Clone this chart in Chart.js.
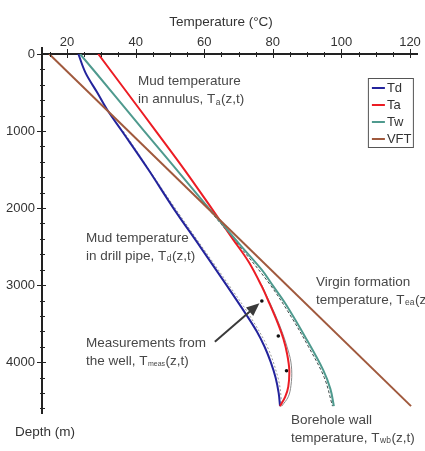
<!DOCTYPE html>
<html>
<head>
<meta charset="utf-8">
<script src="https://cdn.jsdelivr.net/npm/chart.js@4.4.1/dist/chart.umd.min.js"></script>
<style>
  body { margin: 0; background: #fff; }
  canvas { display: block; }
</style>
</head>
<body>
<canvas id="chart" width="425" height="451"></canvas>
<script>
// tick labels
var xTicks = [20, 40, 60, 80, 100, 120];
var yTicks = [0, 1000, 2000, 3000, 4000];

// mud temperature in drill pipe
var tdDepth = [0, 245, 500, 744, 1000, 1500, 2000, 2500, 3000, 3400, 3600, 3800, 4000, 4200, 4400, 4571];
var tdTemp  = [23.3, 25.4, 28.8, 32.0, 36.0, 43.7, 51.0, 58.8, 66.5, 72.5, 75.3, 77.6, 79.4, 80.8, 81.7, 82.1];

// mud temperature in annulus
var taDepth = [0, 500, 1000, 1500, 2000, 2130, 2400, 2694, 3000, 3236, 3500, 3700, 3900, 4103, 4320, 4450, 4571];
var taTemp  = [29.1, 37.5, 45.9, 54.2, 62.1, 64.1, 68.3, 72.9, 76.6, 79.0, 81.5, 83.1, 84.2, 84.8, 84.5, 83.6, 82.1];

// borehole wall temperature
var twDepth = [0, 500, 1000, 1372, 2000, 2130, 2500, 2802, 3000, 3236, 3670, 4103, 4350, 4571];
var twTemp  = [23.8, 33.2, 42.5, 49.5, 61.3, 63.8, 70.9, 76.8, 79.9, 83.6, 89.4, 94.7, 96.8, 97.8];

// virgin formation temperature
var vftDepth = [0, 4571];
var vftTemp  = [14.8, 120.3];

// companion (model comparison) curves
var tdSimDepth = [1000, 2000, 3000, 3400, 3800, 4200, 4450, 4571];
var tdSimTemp  = [36.4, 51.5, 67.2, 73.3, 78.4, 81.5, 82.4, 82.3];
var taSimDepth = [3000, 3500, 3900, 4100, 4300, 4450, 4571];
var taSimTemp  = [76.8, 81.8, 84.8, 85.5, 85.3, 84.5, 82.6];
var twSimDepth = [2000, 2500, 3000, 3400, 3800, 4200, 4571];
var twSimTemp  = [61.0, 70.4, 79.3, 85.2, 90.4, 95.0, 97.4];

// measurements from the well
var measDepth = [3206, 3661, 4111];
var measTemp  = [76.8, 81.6, 84.0];

var FONT = "'Liberation Sans', Arial, Helvetica, sans-serif";

function pts(temps, depths) {
	var out = [];
	for (var i = 0; i < temps.length; i++) {
		out.push({x: temps[i], y: depths[i]});
	}
	return out;
}

function line(label, temps, depths, color, width, dash) {
	return {
		label: label,
		data: pts(temps, depths),
		showLine: true,
		borderColor: color,
		borderWidth: width,
		borderDash: dash || [],
		pointRadius: 0,
		tension: 0.35,
		fill: false
	};
}

var datasets = [
	line('VFT', vftTemp, vftDepth, '#a0593d', 2),
	line('Tw', twTemp, twDepth, '#4f9a8e', 2),
	line('Ta', taTemp, taDepth, '#ec1c24', 2),
	line('Td', tdTemp, tdDepth, '#23239c', 2),
	line('', tdSimTemp, tdSimDepth, '#9a9a9a', 1, [2, 2]),
	line('', taSimTemp, taSimDepth, '#8a8a8a', 1),
	line('', twSimTemp, twSimDepth, '#3c4a48', 1, [3, 2]),
	{
		label: '',
		data: pts(measTemp, measDepth),
		showLine: false,
		pointRadius: 1.8,
		pointBackgroundColor: '#111',
		pointBorderWidth: 0
	}
];

var legendOrder = ['Td', 'Ta', 'Tw', 'VFT'];

// text notes, anchored in data units (temperature, depth of first line)
var notes = [
	{t: 40.7, d: 354, lines: [['Mud temperature'], ['in annulus, T', {sub: 'a'}, '(z,t)']]},
	{t: 25.5, d: 2386, lines: [['Mud temperature'], ['in drill pipe, T', {sub: 'd'}, '(z,t)']]},
	{t: 92.6, d: 2958, lines: [['Virgin formation'], ['temperature, T', {sub: 'ea'}, '(z,t)']]},
	{t: 25.5, d: 3752, lines: [['Measurements from'], ['the well, T', {sub: 'meas'}, '(z,t)']]},
	{t: 85.3, d: 4752, lines: [['Borehole wall'], ['temperature, T', {sub: 'wb'}, '(z,t)']]}
];

function drawRich(ctx, parts, x, y) {
	for (var i = 0; i < parts.length; i++) {
		var p = parts[i];
		if (typeof p === 'string') {
			ctx.font = '13.5px ' + FONT;
			ctx.fillText(p, x, y);
			x += ctx.measureText(p).width;
		} else {
			ctx.font = (p.sub.length > 2 ? '7px ' : '8.5px ') + FONT;
			ctx.fillText(p.sub, x + 0.5, y + 3);
			x += ctx.measureText(p.sub).width + 1;
		}
	}
}

var decor = {
	id: 'decor',
	afterDraw: function(chart) {
		var ctx = chart.ctx;
		var a = chart.chartArea;
		var x = chart.scales.x;
		var y = chart.scales.y;
		ctx.save();

		// axis ticks crossing the axis lines
		ctx.strokeStyle = '#222';
		ctx.lineWidth = 1;
		for (var v = 15; v <= 120; v += 5) {
			var px = Math.round(x.getPixelForValue(v)) + 0.5;
			var major = xTicks.indexOf(v) >= 0;
			ctx.beginPath();
			ctx.moveTo(px, a.top - (major ? 5 : 2));
			ctx.lineTo(px, a.top + (major ? 4 : 3));
			ctx.stroke();
		}
		for (var d = 0; d <= 4600; d += 200) {
			var py = Math.round(y.getPixelForValue(d)) + 0.5;
			var maj = yTicks.indexOf(d) >= 0;
			ctx.beginPath();
			ctx.moveTo(a.left - (maj ? 5 : 2), py);
			ctx.lineTo(a.left + (maj ? 4 : 3), py);
			ctx.stroke();
		}
		ctx.lineWidth = 2;
		ctx.beginPath();
		ctx.moveTo(a.left, a.top - 7);
		ctx.lineTo(a.left, a.top);
		ctx.stroke();

		// axis titles
		ctx.fillStyle = '#333';
		ctx.textBaseline = 'middle';
		ctx.textAlign = 'center';
		ctx.font = '13.5px ' + FONT;
		ctx.fillText('Temperature (\u00B0C)', 221, 22);
		ctx.textAlign = 'left';
		ctx.fillText('Depth (m)', a.left - 27, a.bottom + 19);

		// notes
		ctx.fillStyle = '#474747';
		ctx.textBaseline = 'middle';
		notes.forEach(function(n) {
			var nx = x.getPixelForValue(n.t);
			var ny = y.getPixelForValue(n.d);
			n.lines.forEach(function(l, i) {
				drawRich(ctx, l, nx, ny + i * 18);
			});
		});

		// arrow to the measurements
		var x0 = x.getPixelForValue(63.1), y0 = y.getPixelForValue(3735);
		var x1 = x.getPixelForValue(76.1), y1 = y.getPixelForValue(3235);
		var ang = Math.atan2(y1 - y0, x1 - x0);
		ctx.strokeStyle = '#3a3a3a';
		ctx.fillStyle = '#3a3a3a';
		ctx.lineWidth = 2;
		ctx.beginPath();
		ctx.moveTo(x0, y0);
		ctx.lineTo(x1 - 10 * Math.cos(ang), y1 - 10 * Math.sin(ang));
		ctx.stroke();
		ctx.beginPath();
		ctx.moveTo(x1, y1);
		ctx.lineTo(x1 - 13 * Math.cos(ang) + 5.5 * Math.sin(ang), y1 - 13 * Math.sin(ang) - 5.5 * Math.cos(ang));
		ctx.lineTo(x1 - 13 * Math.cos(ang) - 5.5 * Math.sin(ang), y1 - 13 * Math.sin(ang) + 5.5 * Math.cos(ang));
		ctx.closePath();
		ctx.fill();

		// legend box
		var lx = a.right - 50, ly = a.top + 24, lw = 45, lh = 69;
		ctx.fillStyle = '#fff';
		ctx.fillRect(lx, ly, lw, lh);
		ctx.strokeStyle = '#555';
		ctx.lineWidth = 1;
		ctx.strokeRect(lx + 0.5, ly + 0.5, lw, lh);
		ctx.font = '13px ' + FONT;
		ctx.textAlign = 'left';
		ctx.textBaseline = 'middle';
		legendOrder.forEach(function(name, i) {
			var ds = chart.data.datasets.filter(function(s) { return s.label === name; })[0];
			var ry = ly + 10 + i * 17;
			ctx.strokeStyle = ds.borderColor;
			ctx.lineWidth = 2;
			ctx.beginPath();
			ctx.moveTo(lx + 4, ry);
			ctx.lineTo(lx + 17, ry);
			ctx.stroke();
			ctx.fillStyle = '#333';
			ctx.fillText(name, lx + 19, ry);
		});

		ctx.restore();
	}
};

var ctx = document.getElementById('chart');
var myChart = new Chart(ctx, {
	type: 'scatter',
	data: { datasets: datasets },
	plugins: [decor],
	options: {
		responsive: false,
		animation: false,
		devicePixelRatio: 1,
		layout: { padding: { left: 0, top: 0, right: 7, bottom: 38 } },
		plugins: {
			legend: { display: false },
			tooltip: { enabled: false }
		},
		scales: {
			x: {
				type: 'linear',
				position: 'top',
				min: 12.7,
				max: 122.3,
				grid: { display: false, drawTicks: false },
				border: { display: true, color: '#222', width: 2 },
				ticks: {
					color: '#333', padding: 4, font: { family: FONT, size: 13 },
					callback: function(v) { return String(v); }
				},
				afterBuildTicks: function(s) { s.ticks = xTicks.map(function(v) { return {value: v}; }); },
				afterFit: function(s) { s.height = 54; }
			},
			y: {
				type: 'linear',
				reverse: true,
				min: 0,
				max: 4660,
				grid: { display: false, drawTicks: false },
				border: { display: true, color: '#222', width: 2 },
				ticks: {
					color: '#333', padding: 7, font: { family: FONT, size: 13 },
					callback: function(v) { return String(v); }
				},
				afterBuildTicks: function(s) { s.ticks = yTicks.map(function(v) { return {value: v}; }); },
				afterFit: function(s) { s.width = 42; }
			}
		}
	}
});
</script>
</body>
</html>
